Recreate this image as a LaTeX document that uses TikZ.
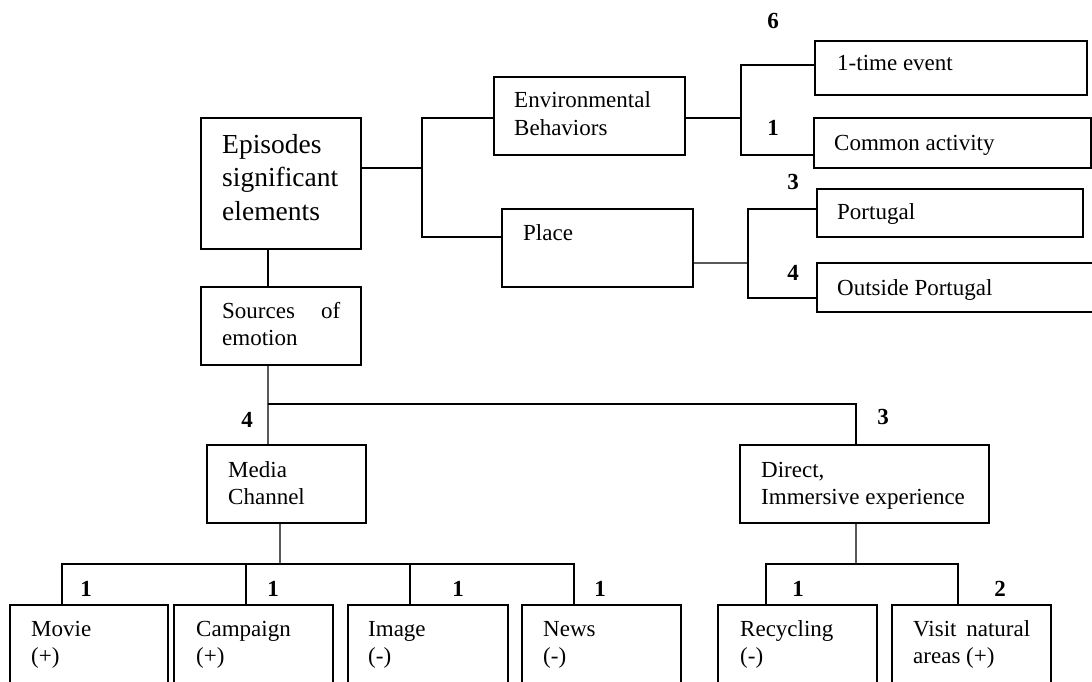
\documentclass[tikz,border=0pt]{standalone}
\usepackage{fontspec}
\setmainfont{Liberation Serif}
\newcommand\txtpair[2]{\vtop{\hbox{#1}\hbox{#2}}}
\newcommand\txttriple[3]{\vtop{\hbox{#1}\hbox{#2}\hbox{#3}}}
\begin{document}
\begin{tikzpicture}[x=1bp,y=-1bp,
  box/.style={draw, line width=1.3bp, rectangle, inner sep=0pt},
  txt/.style={anchor=base west, inner sep=0pt, font=\fontsize{23bp}{27.5bp}\selectfont},
  bigtxt/.style={anchor=base west, inner sep=0pt, font=\fontsize{27.5bp}{33bp}\selectfont},
  num/.style={inner sep=0pt, font=\bfseries\fontsize{23bp}{23bp}\selectfont},
  link/.style={line width=1.4bp},
  heavy/.style={line width=2bp}]
\useasboundingbox (0,0) rectangle (1092,682);
\clip (0,0) rectangle (1092,682);

% boxes
\node[box, minimum width=160bp, minimum height=131bp] (epi)    at (281,183.5) {};
\node[box, minimum width=160bp, minimum height=78bp]  (src)    at (281,326) {};
\node[box, minimum width=191bp, minimum height=78bp]  (env)    at (589.5,116) {};
\node[box, minimum width=191bp, minimum height=78bp]  (place)  at (597.5,248) {};
\node[box, minimum width=272bp, minimum height=54bp]  (one)    at (951,68) {};
\node[box, minimum width=277bp, minimum height=50bp]  (common) at (952.5,143) {};
\node[box, minimum width=266bp, minimum height=48bp]  (port)   at (950,213) {};
\node[box, minimum width=283bp, minimum height=49bp]  (out)    at (958.5,287.5) {};
\node[box, minimum width=159bp, minimum height=78bp]  (media)  at (286.5,484) {};
\node[box, minimum width=249bp, minimum height=78bp]  (direct) at (864.5,484) {};
\node[box, minimum width=158bp, minimum height=95bp]  (movie)  at (89,652.5) {};
\node[box, minimum width=159bp, minimum height=95bp]  (camp)   at (253.5,652.5) {};
\node[box, minimum width=160bp, minimum height=95bp]  (image)  at (428,652.5) {};
\node[box, minimum width=159bp, minimum height=95bp]  (news)   at (601.5,652.5) {};
\node[box, minimum width=159bp, minimum height=95bp]  (recyc)  at (797.5,652.5) {};
\node[box, minimum width=159bp, minimum height=95bp]  (visit)  at (971.5,652.5) {};

% box texts
\node[bigtxt] (t-epi) at (222,154) {\txttriple{Episodes}{significant}{elements}};
\node[txt] (t-src)    at (222,318) {\txtpair{\hbox to 118bp{Sources\hfill of}}{emotion}};
\node[txt] (t-env)    at (514,108) {\txtpair{Environmental}{Behaviors}};
\node[txt] (t-place)  at (523,240) {Place};
\node[txt] (t-one)    at (837,71)  {1-time event};
\node[txt] (t-common) at (834,151) {Common activity};
\node[txt] (t-port)   at (837,219) {Portugal};
\node[txt] (t-out)    at (837,295) {Outside Portugal};
\node[txt] (t-media)  at (228,477) {\txtpair{Media}{Channel}};
\node[txt] (t-direct) at (761,477) {\txtpair{Direct,}{Immersive experience}};
\node[txt] (t-movie)  at (31,636)  {\txtpair{Movie}{(+)}};
\node[txt] (t-camp)   at (196,636) {\txtpair{Campaign}{(+)}};
\node[txt] (t-image)  at (368,636) {\txtpair{Image}{(-)}};
\node[txt] (t-news)   at (543,636) {\txtpair{News}{(-)}};
\node[txt] (t-recyc)  at (740,636) {\txtpair{Recycling}{(-)}};
\node[txt] (t-visit)  at (913,636) {\txtpair{\hbox to 117bp{Visit\hfill natural}}{areas (+)}};

% counts
\node[num] (n-one)    at (773,21)  {6};
\node[num] (n-common) at (773,128) {1};
\node[num] (n-port)   at (793,182) {3};
\node[num] (n-out)    at (793,273) {4};
\node[num] (n-media)  at (247,420) {4};
\node[num] (n-direct) at (883,417) {3};
\node[num] (n-movie)  at (86,589)  {1};
\node[num] (n-camp)   at (273,589) {1};
\node[num] (n-image)  at (458,589) {1};
\node[num] (n-news)   at (600,589) {1};
\node[num] (n-recyc)  at (798,589) {1};
\node[num] (n-visit)  at (1000,589) {2};

% junction points
\coordinate (jA) at (422,168);
\coordinate (jC) at (741,118);
\coordinate (jD) at (748,263);
\coordinate (jE) at (268,404);
\coordinate (jF) at (280,564);
\coordinate (jG) at (856,564);

% episodes -> behaviors / place
\draw[link] (epi.east |- jA) -- (jA);
\draw[heavy] ([yshift=-2bp]env.west) -| (jA) |- ([yshift=11bp]place.west);

% episodes -> sources
\draw[link] ([xshift=-13bp]epi.south) -- ([xshift=-13bp]src.north);

% behaviors -> event kinds
\draw[heavy] (jC -| env.east) -- (jC);
\draw[link] ([yshift=3bp]one.west) -| (jC) |- ([yshift=-12bp]common.west);

% place -> countries
\draw[link] ([yshift=-15bp]place.east) -- (jD);
\draw[link] ([yshift=4bp]port.west) -| (jD) |- ([yshift=-10.5bp]out.west);

% sources -> channels
\draw[link] ([xshift=-13bp]src.south) -- ([xshift=-18.5bp]media.north);
\draw[link] (jE) -| ([xshift=-8.5bp]direct.north);

% media channel -> items
\coordinate (mvT) at ([xshift=-27bp]movie.north);
\coordinate (cpT) at ([xshift=-7.5bp]camp.north);
\coordinate (imT) at ([xshift=-18bp]image.north);
\coordinate (nwT) at ([xshift=-27.5bp]news.north);
\draw[link] ([xshift=-6.5bp]media.south) -- (jF);
\draw[link] (mvT) |- (nwT |- jF) -- (nwT);
\draw[link] (cpT) -- (cpT |- jF);
\draw[heavy] (imT) -- (imT |- jF);

% direct experience -> items
\coordinate (rcT) at ([xshift=-31.5bp]recyc.north);
\coordinate (vsT) at ([xshift=-13.5bp]visit.north);
\draw[link] ([xshift=-8.5bp]direct.south) -- (jG);
\draw[link] (rcT) |- (vsT |- jG) -- (vsT);
\end{tikzpicture}
\end{document}
